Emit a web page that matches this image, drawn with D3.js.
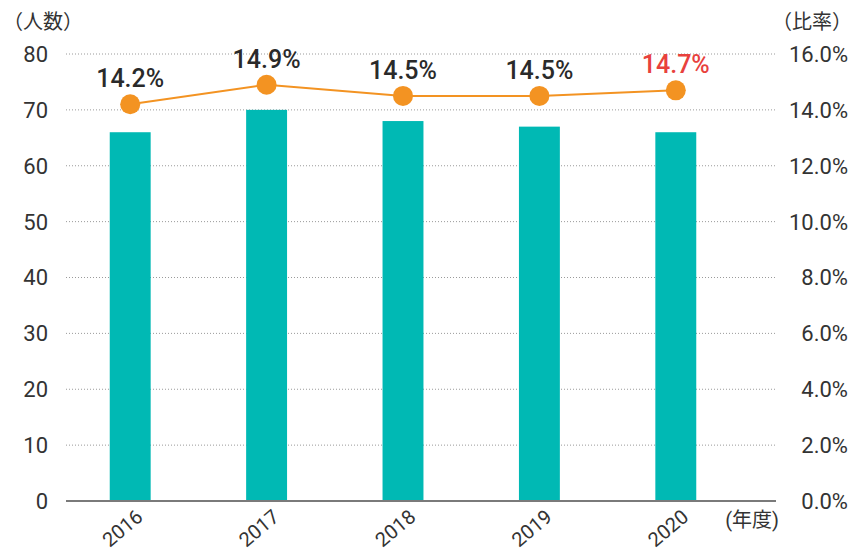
<!DOCTYPE html>
<html>
<head>
<meta charset="utf-8">
<script src="https://cdn.jsdelivr.net/npm/d3@7"></script>
<style>
  html, body { margin: 0; padding: 0; background: #fff; }
  svg { display: block; }
  text { font-family: Roboto, "Noto Sans CJK JP", sans-serif; }
</style>
</head>
<body>
<svg id="chart" width="853" height="551"></svg>
<script>
// Fiscal years and values
const years = ["2016", "2017", "2018", "2019", "2020"];
const headcount = [66, 70, 68, 67, 66];          // 人数 (bars, left axis)
const ratio = [14.2, 14.9, 14.5, 14.5, 14.7];    // 比率 % (line, right axis)
const leftTicks = [0, 10, 20, 30, 40, 50, 60, 70, 80];
const rightTicks = [0, 2, 4, 6, 8, 10, 12, 14, 16];

const svg = d3.select("#chart");

const gridLeft = 66, gridRight = 776;
const yBottom = 501, yTop = 54;

const x = d3.scaleBand().domain(years).range([62, 744]).paddingInner(0.7).paddingOuter(0.35);
const yL = d3.scaleLinear().domain([0, 80]).range([yBottom, yTop]);
const yR = d3.scaleLinear().domain([0, 16]).range([yBottom, yTop]);

// dotted gridlines
svg.append("g").selectAll("line")
  .data(leftTicks.filter(d => d > 0))
  .join("line")
  .attr("x1", gridLeft).attr("x2", gridRight)
  .attr("y1", d => yL(d)).attr("y2", d => yL(d))
  .attr("stroke", "#9a9a9a").attr("stroke-width", 1)
  .attr("stroke-dasharray", "1,2");

// left axis labels
svg.append("g").selectAll("text")
  .data(leftTicks)
  .join("text")
  .attr("x", 48).attr("y", d => yL(d))
  .attr("dy", "0.36em")
  .attr("text-anchor", "end")
  .attr("font-size", 22)
  .attr("fill", "#333")
  .text(d => d);

// right axis labels
svg.append("g").selectAll("text")
  .data(rightTicks)
  .join("text")
  .attr("x", 848).attr("y", d => yR(d))
  .attr("dy", "0.36em")
  .attr("text-anchor", "end")
  .attr("font-size", 22)
  .attr("fill", "#333")
  .text(d => d.toFixed(1) + "%");

// bars
svg.append("g").selectAll("rect")
  .data(years)
  .join("rect")
  .attr("x", d => x(d))
  .attr("width", x.bandwidth())
  .attr("y", (d, i) => yL(headcount[i]))
  .attr("height", (d, i) => yBottom - yL(headcount[i]))
  .attr("fill", "#00b9b4");

// baseline
svg.append("line")
  .attr("x1", gridLeft).attr("x2", gridRight)
  .attr("y1", yBottom).attr("y2", yBottom)
  .attr("stroke", "#7a7a7a").attr("stroke-width", 2);

// ratio line
const cx = d => x(d) + x.bandwidth() / 2;
const line = d3.line().x((d, i) => cx(years[i])).y(d => yR(d));
svg.append("path")
  .datum(ratio)
  .attr("d", line)
  .attr("fill", "none")
  .attr("stroke", "#f39322")
  .attr("stroke-width", 2);

svg.append("g").selectAll("circle")
  .data(ratio)
  .join("circle")
  .attr("cx", (d, i) => cx(years[i]))
  .attr("cy", d => yR(d))
  .attr("r", 10)
  .attr("fill", "#f39322");

// value labels
svg.append("g").selectAll("text")
  .data(ratio)
  .join("text")
  .attr("x", (d, i) => cx(years[i]))
  .attr("y", d => yR(d) - 17)
  .attr("text-anchor", "middle")
  .attr("font-size", 25)
  .attr("font-weight", 500)
  .attr("fill", (d, i) => i === ratio.length - 1 ? "#e8413d" : "#2a2a2a")
  .text(d => d.toFixed(1) + "%");

// year labels, rotated
svg.append("g").selectAll("text")
  .data(years)
  .join("text")
  .attr("transform", d => `translate(${cx(d) + 14},${yBottom + 18}) rotate(-40)`)
  .attr("text-anchor", "end")
  .attr("font-size", 20)
  .attr("fill", "#333")
  .text(d => d);

// axis titles
svg.append("text").attr("x", 3).attr("y", 29).attr("font-size", 20).attr("fill", "#333").text("（人数）");
svg.append("text").attr("x", 852).attr("y", 29).attr("text-anchor", "end").attr("font-size", 20).attr("fill", "#333").text("（比率）");
svg.append("text").attr("x", 779).attr("y", 527).attr("text-anchor", "end").attr("font-size", 20).attr("fill", "#333").text("(年度)");
</script>
</body>
</html>
